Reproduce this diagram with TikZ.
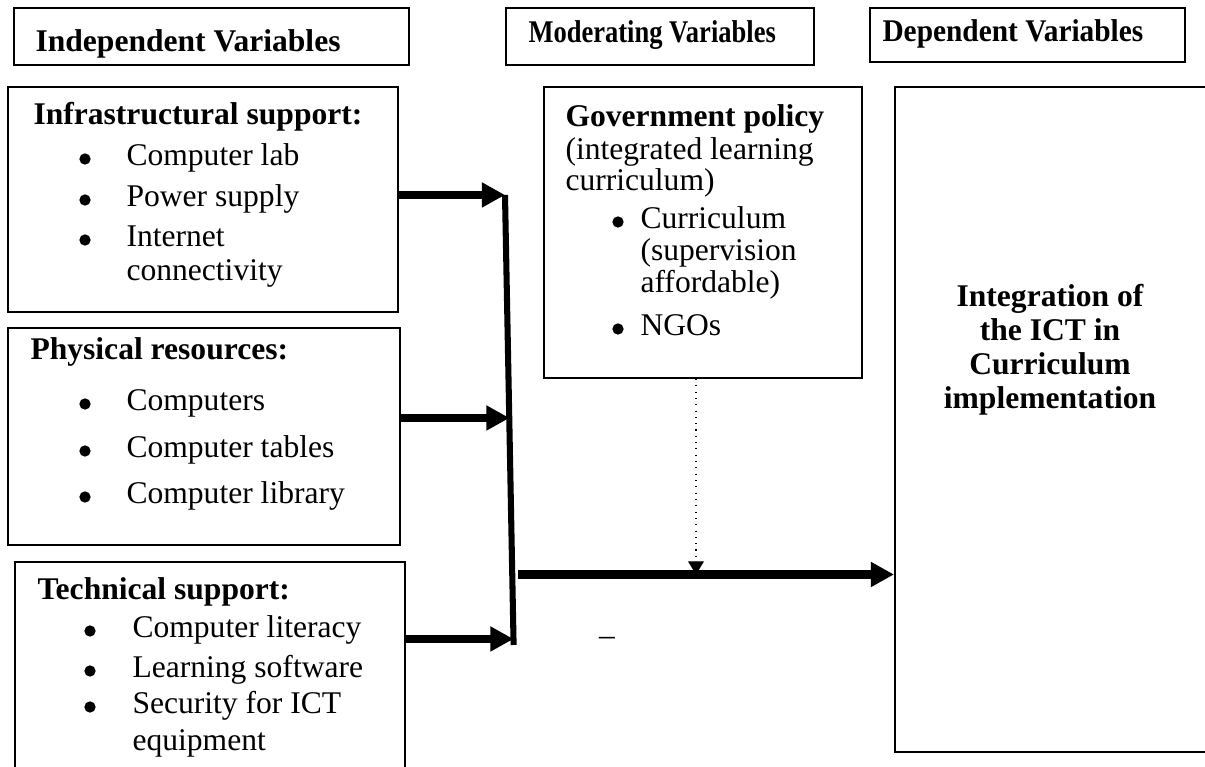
\documentclass[tikz,border=0pt]{standalone}
\usepackage{fontspec}
\setmainfont{Liberation Serif}
\usetikzlibrary{arrows.meta,fit}
\begin{document}
\begin{tikzpicture}[x=0.38pt,y=-0.38pt,
  box/.style={draw,line width=0.75pt,inner sep=0pt},
  txt/.style={anchor=base west,inner sep=0pt,font=\fontsize{12}{14}\selectfont},
  btxt/.style={txt,font=\fontsize{12}{14}\selectfont\bfseries},
  ctxt/.style={anchor=base,inner sep=0pt,font=\fontsize{12}{14}\selectfont\bfseries},
  bul/.style={circle,fill,inner sep=0pt,minimum size=4.3pt},
  bigarrow/.style={line width=3.2pt,-{Triangle[length=8.8pt,width=9pt]}},
  barline/.style={line width=2.3pt},
  dotarrow/.style={line width=0.4pt,dotted,-{Triangle[length=5pt,width=6pt]}}]
\useasboundingbox (0,0) rectangle (1205,767);
\clip (0,0) rectangle (1205,767);
% header boxes
\node[box,fit={(14,8) (409,65)}] (indep) {};
\node[btxt] (indepT) at (35,52) {Independent Variables};
\node[box,fit={(506,8) (814,65)}] (moder) {};
\node[btxt] (moderT) at (528,43) {\scalebox{0.84}[1]{Moderating Variables}};
\node[box,fit={(870,8) (1185,62)}] (depend) {};
\node[btxt] (dependT) at (882,42) {\scalebox{0.93}[1]{Dependent Variables}};
% infrastructural
\node[box,fit={(8,87) (398,312)}] (infra) {};
\node[btxt] (infraH) at (33,125) {Infrastructural support:};
\node[bul] (ib1) at (85,159) {};
\node[txt] (i1) at (126,166) {Computer lab};
\node[bul] (ib2) at (85,200) {};
\node[txt] (i2) at (126,207) {Power supply};
\node[bul] (ib3) at (85,240) {};
\node[txt] (i3) at (126,247) {Internet};
\node[txt] (i3b) at (126,281) {connectivity};
% physical
\node[box,fit={(8,328) (400,545)}] (phys) {};
\node[btxt] (physH) at (30,360) {Physical resources:};
\node[bul] (pb1) at (85,404) {};
\node[txt] (p1) at (126,411) {Computers};
\node[bul] (pb2) at (85,451) {};
\node[txt] (p2) at (126,458) {Computer tables};
\node[bul] (pb3) at (85,497) {};
\node[txt] (p3) at (126,504) {Computer library};
% technical
\node[box,fit={(15,562) (405,790)}] (tech) {};
\node[btxt] (techH) at (37,600) {Technical support:};
\node[bul] (tb1) at (90,631) {};
\node[txt] (t1) at (132,638) {Computer literacy};
\node[bul] (tb2) at (90,671) {};
\node[txt] (t2) at (132,678) {Learning software};
\node[bul] (tb3) at (90,707) {};
\node[txt] (t3) at (132,714) {Security for ICT};
\node[txt] (t3b) at (132,751) {equipment};
% government policy
\node[box,fit={(544,87) (862,378)}] (gov) {};
\node[btxt] (govH) at (565,127) {Government policy};
\node[txt] (g1) at (565,160) {(integrated learning};
\node[txt] (g2) at (565,191) {curriculum)};
\node[bul] (gb1) at (618,222) {};
\node[txt] (g3) at (640,229) {Curriculum};
\node[txt] (g3b) at (640,261) {(supervision};
\node[txt] (g3c) at (640,293) {affordable)};
\node[bul] (gb2) at (618,329) {};
\node[txt] (g4) at (640,336) {NGOs};
% dependent big box
\node[box,fit={(895,87) (1230,752)}] (dep) {};
\node[ctxt] (d1) at (1050,307) {Integration of};
\node[ctxt] (d2) at (1050,341) {the ICT in};
\node[ctxt] (d3) at (1050,375) {Curriculum};
\node[ctxt] (d4) at (1050,409) {implementation};
% junctions
\coordinate (j1) at (505,195);
\coordinate (j2) at (509.5,418);
\coordinate (j3) at (513.5,639);
\coordinate (jb) at (513.6,645);
\coordinate (m0) at (518,574.5);
\coordinate (m1) at (696,574.5);
\draw[barline] (j1) -- (jb);
\draw[bigarrow] (infra.east |- j1) -- (j1);
\draw[bigarrow] (phys.east |- j2) -- (j2);
\draw[bigarrow] (tech.east |- j3) -- (j3);
\draw[bigarrow] (m0) -- (dep.west |- m0);
\draw[dotarrow] (gov.south -| m1) -- (m1);
\node[anchor=center,inner sep=0pt,font=\fontsize{12}{14}\selectfont] (dash) at (607,641) {–};
\end{tikzpicture}
\end{document}
